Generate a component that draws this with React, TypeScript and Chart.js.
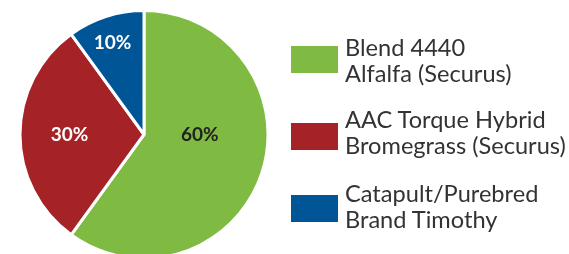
import React, { useEffect, useRef } from "react";
import { Chart, registerables } from "chart.js";

Chart.register(...registerables);

const categories: string[][] = [
  ["Blend 4440", "Alfalfa (Securus)"],
  ["AAC Torque Hybrid", "Bromegrass (Securus)"],
  ["Catapult/Purebred", "Brand Timothy"],
];
const shares: number[] = [60, 30, 10];
const colors: string[] = ["#7FBA42", "#A52226", "#005596"];
const labelColors: string[] = ["#222222", "#ffffff", "#ffffff"];
// label placement: angle (degrees clockwise from top) and fraction of radius
const labelAngles: number[] = [90, 270, 341];
const labelRadii: number[] = [0.45, 0.6, 0.78];
// legend layout (pixels)
const legendTextTops: number[] = [35, 107, 181];
const legendBoxTops: number[] = [46, 123, 195];

const labelPlugin = {
  id: "sliceLabels",
  afterDatasetsDraw(chart: any) {
    const meta = chart.getDatasetMeta(0);
    const ctx = chart.ctx;
    ctx.save();
    ctx.font = "bold 19px Lato";
    ctx.textAlign = "center";
    ctx.textBaseline = "middle";
    meta.data.forEach((arc: any, i: number) => {
      const a = (labelAngles[i] * Math.PI) / 180;
      const r = arc.outerRadius * labelRadii[i];
      const x = arc.x + r * Math.sin(a);
      const y = arc.y - r * Math.cos(a);
      ctx.fillStyle = labelColors[i];
      ctx.fillText(shares[i] + "%", x, y);
    });
    ctx.restore();
  },
};

export default function App() {
  const ref = useRef<HTMLCanvasElement | null>(null);
  useEffect(() => {
    document.body.style.margin = "0";
    const chart = new Chart(ref.current!, {
      type: "pie",
      data: {
        labels: categories.map((c) => c.join(" ")),
        datasets: [
          {
            data: shares,
            backgroundColor: colors,
            borderColor: "#ffffff",
            borderWidth: 3,
          },
        ],
      },
      options: {
        animation: false,
        responsive: false,
        events: [],
        layout: { padding: { left: 18, right: 299, top: 9, bottom: 10 } },
        plugins: { legend: { display: false }, tooltip: { enabled: false } },
      },
      plugins: [labelPlugin],
    });
    return () => chart.destroy();
  }, []);

  return (
    <div style={{ position: "fixed", left: 0, top: 0, width: 569, height: 254, overflow: "hidden", background: "#fff" }}>
      <canvas ref={ref} width={569} height={270} style={{ position: "absolute", left: 0, top: 0 }} />
      {categories.map((lines, i) => (
        <React.Fragment key={i}>
          <div
            style={{
              position: "absolute",
              left: 291,
              top: legendBoxTops[i],
              width: 47,
              height: 27,
              background: colors[i],
            }}
          />
          <div
            style={{
              position: "absolute",
              left: 345,
              top: legendTextTops[i],
              whiteSpace: "nowrap",
              font: "23.6px Lato",
              lineHeight: "25.5px",
              color: "#333333",
            }}
          >
            {lines.map((l, j) => (
              <div key={j}>{l}</div>
            ))}
          </div>
        </React.Fragment>
      ))}
    </div>
  );
}
